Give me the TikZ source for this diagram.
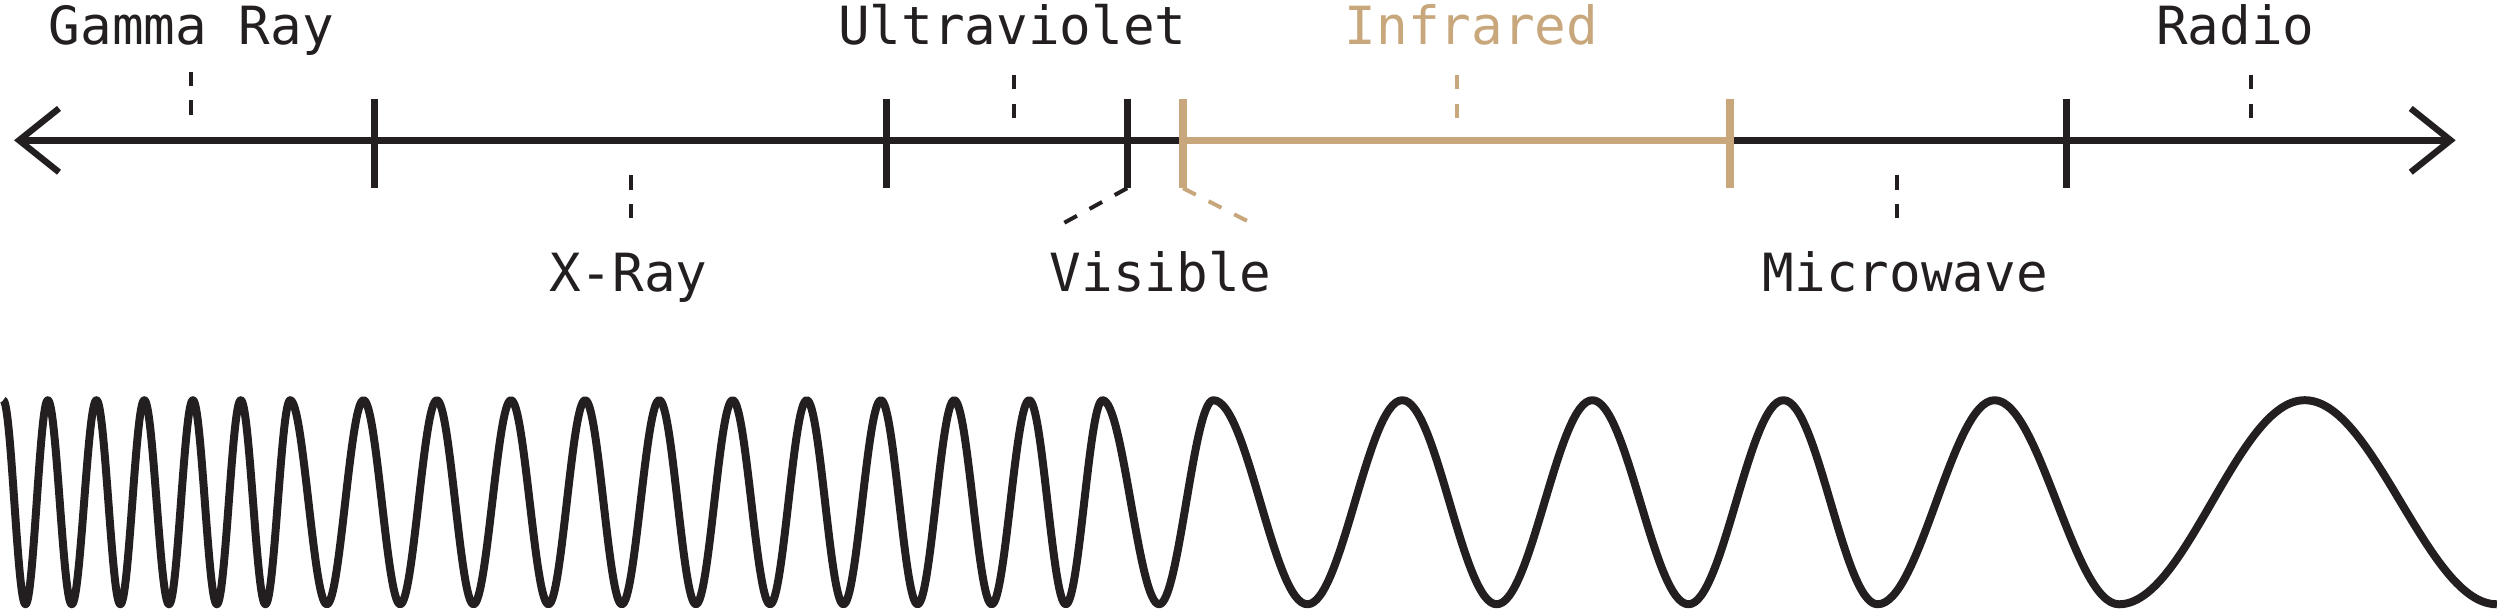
\documentclass[tikz,border=0pt]{standalone}
\usepackage{fontspec}
\setmonofont{DejaVu Sans Mono}
\definecolor{ink}{HTML}{231F20}
\definecolor{tan}{HTML}{C8A77C}
\tikzset{
  lbl/.style={font=\ttfamily\fontsize{33}{36}\selectfont, anchor=base, inner sep=0pt, text=ink},
  axis/.style={draw=ink, line width=4pt},
  tick/.style={draw=ink, line width=4.5pt},
  lead/.style={draw=ink, line width=2.5pt, dash pattern=on 9pt off 9pt},
  wave/.style={draw=ink, line width=5pt, line join=round}
}
\begin{document}
\begin{tikzpicture}[x=1pt,y=-1pt]
\useasboundingbox (0,0) rectangle (1568,386);
% axis
\coordinate (L) at (12,88);
\coordinate (R) at (1537,88);
\draw[axis] (L) -- (R);
\draw[axis, line join=miter] (37,68) -- (L) -- (37,108);
\draw[axis, line join=miter] (1512,68) -- (R) -- (1512,108);
\draw[tan, line width=4pt] (742,88) -- (1085,88);
% ticks
\foreach \x in {235,556,707,1296} \draw[tick] (\x,62) -- (\x,118);
\draw[tick, draw=tan] (742,62) -- (742,118);
\draw[tick, draw=tan] (1085,62) -- (1085,118);
% labels
\node[lbl] (gamma) at (120,28) {Gamma Ray};
\node[lbl] (uv) at (635,28) {Ultraviolet};
\node[lbl, text=tan] (ir) at (923,28) {Infrared};
\node[lbl] (radio) at (1402,28) {Radio};
\node[lbl] (xray) at (394,183) {X-Ray};
\node[lbl] (vis) at (728,183) {Visible};
\node[lbl] (micro) at (1195,183) {Microwave};
% leaders
\draw[lead] (120,45) -- (120,76);
\draw[lead] (636,47) -- (636,80);
\draw[lead, draw=tan] (914,47) -- (914,80);
\draw[lead] (1412,47) -- (1412,80);
\draw[lead] (396,110) -- (396,145);
\draw[lead] (1190,110) -- (1190,145);
\draw[lead] (707,118) -- (667,140);
\draw[lead, draw=tan] (742,118) -- (785,140);
% wave
\draw[wave] (2,251) \foreach \x [count=\i, remember=\x as \px (initially 2)] in
 {16,30,45,60.5,75.5,90.5,106,121,136,151,166.5,182,205,228,251,274,297,320.5,344,367,390,413.5,436.5,459.5,483,506,529,552.5,575.5,598.5,622,645.5,668.5,691.5,727,761,820,879.5,938.7,998.7,1059,1118.6,1177.6,1251,1329,1445.5,1566}
 { cos ({(\px+\x)/2},315) sin (\x,{ifthenelse(isodd(\i),379,251)}) };
\end{tikzpicture}
\end{document}
